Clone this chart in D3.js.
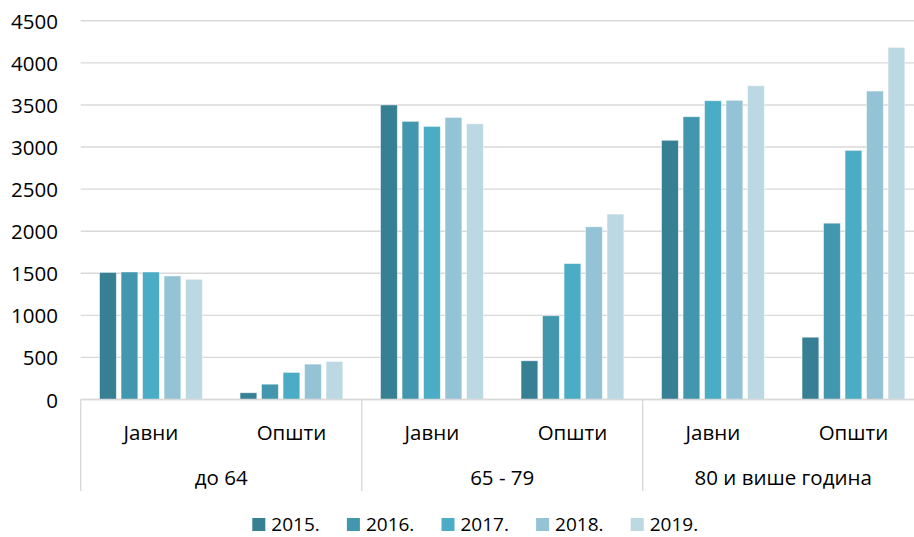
<!DOCTYPE html>
<html>
<head>
<meta charset="utf-8">
<script src="https://cdn.jsdelivr.net/npm/d3@7"></script>
<style>
  html, body { margin: 0; padding: 0; background: #fff; overflow: hidden; }
  svg { display: block; }
  text { font-family: "Open Sans", "Noto Sans", sans-serif; fill: #000; }
</style>
</head>
<body>
<svg id="chart" width="914" height="537"></svg>
<script>
// Age groups and institution types (two-level category axis)
const groups = ["до 64", "65 - 79", "80 и више година"];
const types = ["Јавни", "Општи"];
const years = ["2015.", "2016.", "2017.", "2018.", "2019."];

// Values per year, in category order: group × type
const v2015 = [1510, 80, 3500, 460, 3080, 740];
const v2016 = [1515, 182, 3305, 995, 3360, 2095];
const v2017 = [1515, 322, 3245, 1615, 3550, 2960];
const v2018 = [1468, 420, 3352, 2052, 3555, 3665];
const v2019 = [1428, 452, 3276, 2203, 3728, 4184];
const seriesValues = [v2015, v2016, v2017, v2018, v2019];

const yTicks = [0, 500, 1000, 1500, 2000, 2500, 3000, 3500, 4000, 4500];
const colors = ["#377f93", "#4297ae", "#4bacc6", "#93c3d4", "#bcd8e3"];

const categories = [];
groups.forEach((g, gi) => types.forEach((t, ti) => categories.push({ key: gi + "|" + ti, group: g, type: t })));

const svg = d3.select("#chart");
const plotLeft = 80.7, plotRight = 923.7;
const y = d3.scaleLinear().domain([0, 4500]).range([399.5, 20.8]);
const x0 = d3.scaleBand().domain(categories.map(c => c.key)).range([plotLeft, plotRight]).padding(0);
const x1 = d3.scaleBand().domain(years).range([0, x0.bandwidth()]).paddingInner(0.22).paddingOuter(0.877);
const color = d3.scaleOrdinal().domain(years).range(colors);

// Horizontal gridlines
svg.append("g")
  .selectAll("line")
  .data(yTicks)
  .join("line")
  .attr("x1", plotLeft).attr("x2", 914)
  .attr("y1", d => y(d)).attr("y2", d => y(d))
  .attr("stroke", "#d9d9d9").attr("stroke-width", 1.4);

// Y tick labels
svg.append("g")
  .selectAll("text")
  .data(yTicks)
  .join("text")
  .attr("x", 58).attr("y", d => y(d))
  .attr("text-anchor", "end").attr("dominant-baseline", "central")
  .attr("font-size", 20.5)
  .text(d => d);

// Bars
const barData = [];
categories.forEach((c, ci) => years.forEach((yr, yi) => barData.push({ cat: c.key, year: yr, value: seriesValues[yi][ci] })));
svg.append("g")
  .selectAll("rect")
  .data(barData)
  .join("rect")
  .attr("x", d => x0(d.cat) + x1(d.year))
  .attr("y", d => y(d.value))
  .attr("width", x1.bandwidth())
  .attr("height", d => y(0) - y(d.value))
  .attr("fill", d => color(d.year))
  .attr("stroke", "rgba(255,255,255,0.55)")
  .attr("stroke-width", 0.8);

// Category axis: baseline, group separators, labels
const axisG = svg.append("g");
axisG.append("line")
  .attr("x1", plotLeft).attr("x2", 914)
  .attr("y1", y(0)).attr("y2", y(0))
  .attr("stroke", "#d9d9d9").attr("stroke-width", 1.4);

const groupEdges = groups.map((g, gi) => x0(gi + "|0")).concat([plotRight]);
axisG.selectAll("line.sep")
  .data(groupEdges)
  .join("line")
  .attr("class", "sep")
  .attr("x1", d => d).attr("x2", d => d)
  .attr("y1", y(0)).attr("y2", 491)
  .attr("stroke", "#d9d9d9").attr("stroke-width", 1.4);

axisG.selectAll("text.type")
  .data(categories)
  .join("text")
  .attr("class", "type")
  .attr("x", d => x0(d.key) + x0.bandwidth() / 2)
  .attr("y", 432)
  .attr("text-anchor", "middle").attr("dominant-baseline", "central")
  .attr("font-size", 20.5)
  .text(d => d.type);

axisG.selectAll("text.group")
  .data(groups)
  .join("text")
  .attr("class", "group")
  .attr("x", (d, i) => (groupEdges[i] + groupEdges[i + 1]) / 2)
  .attr("y", 477)
  .attr("text-anchor", "middle").attr("dominant-baseline", "central")
  .attr("font-size", 20.5)
  .text(d => d);

// Legend
const legend = svg.append("g");
const legItems = legend.selectAll("g")
  .data(years)
  .join("g")
  .attr("transform", (d, i) => `translate(${252.3 + i * 94.6}, 0)`);
legItems.append("rect")
  .attr("x", 0).attr("y", 518)
  .attr("width", 13).attr("height", 13)
  .attr("fill", d => color(d));
legItems.append("text")
  .attr("x", 19).attr("y", 524)
  .attr("dominant-baseline", "central")
  .attr("font-size", 19)
  .text(d => d);
</script>
</body>
</html>
